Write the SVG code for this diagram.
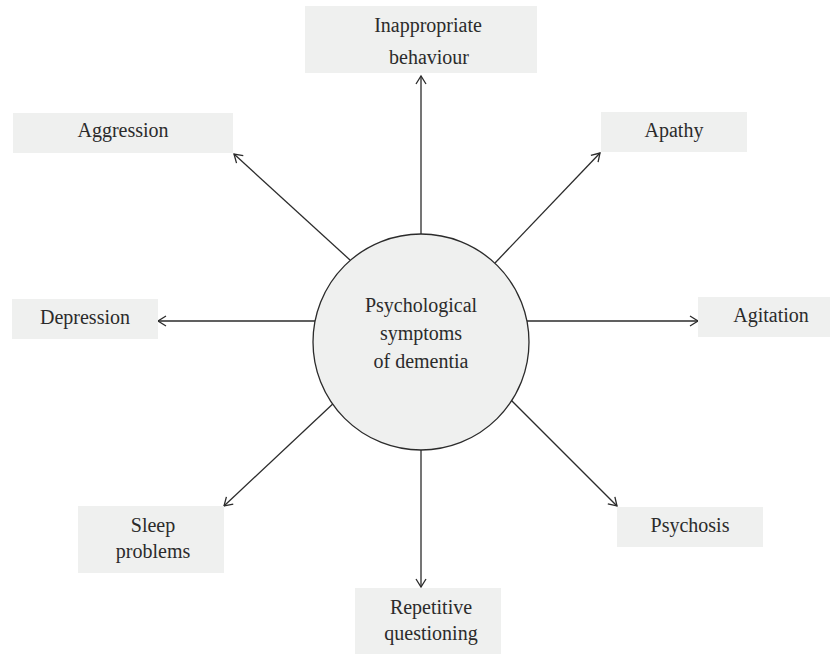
<svg xmlns="http://www.w3.org/2000/svg" width="830" height="654" viewBox="0 0 830 654">
<style>
.box{fill:#eff0ef;}
.t{font-family:'Liberation Serif','DejaVu Serif',serif;font-size:20px;fill:#2b2b2b;text-anchor:middle;}
.c{stroke:#2b2b2b;stroke-width:1.3;fill:none;}
</style>
<defs>
<marker id="ah" markerUnits="userSpaceOnUse" markerWidth="12" markerHeight="12" viewBox="-10 -6 12 12" refX="0" refY="0" orient="auto">
<path d="M-8,-5 L0,0 L-8,5" fill="none" stroke="#2b2b2b" stroke-width="1.3"/>
</marker>
</defs>
<rect width="830" height="654" fill="#ffffff"/>
<g id="connectors" class="c" marker-end="url(#ah)">
<line x1="421" y1="234" x2="421" y2="76"/>
<line x1="350" y1="260" x2="234" y2="154"/>
<line x1="495" y1="263" x2="600" y2="153"/>
<line x1="315" y1="321" x2="158" y2="321"/>
<line x1="527" y1="321" x2="698" y2="321"/>
<line x1="337" y1="400" x2="224" y2="506"/>
<line x1="421" y1="450" x2="421" y2="587"/>
<line x1="508" y1="397" x2="617" y2="506"/>
</g>
<g font-family="Liberation Serif, DejaVu Serif, serif">
<g id="center">
<circle cx="421" cy="342" r="108" fill="#eff0ef" stroke="#2b2b2b" stroke-width="1.3"/>
<text class="t" x="421" y="312">Psychological</text>
<text class="t" x="421" y="340">symptoms</text>
<text class="t" x="421" y="368">of dementia</text>
</g>
<g id="inappropriate">
<rect class="box" x="305" y="6" width="232" height="67"/>
<text class="t" x="428" y="32">Inappropriate</text>
<text class="t" x="429" y="64">behaviour</text>
</g>
<g id="aggression">
<rect class="box" x="13" y="113" width="220" height="40"/>
<text class="t" x="123" y="137">Aggression</text>
</g>
<g id="apathy">
<rect class="box" x="601" y="112" width="146" height="40"/>
<text class="t" x="674" y="137">Apathy</text>
</g>
<g id="depression">
<rect class="box" x="12" y="299" width="146" height="40"/>
<text class="t" x="85" y="324">Depression</text>
</g>
<g id="agitation">
<rect class="box" x="698" y="297" width="146" height="40"/>
<text class="t" x="771" y="322">Agitation</text>
</g>
<g id="sleep">
<rect class="box" x="78" y="506" width="146" height="67"/>
<text class="t" x="153" y="532">Sleep</text>
<text class="t" x="153" y="558">problems</text>
</g>
<g id="psychosis">
<rect class="box" x="617" y="507" width="146" height="40"/>
<text class="t" x="690" y="532">Psychosis</text>
</g>
<g id="repetitive">
<rect class="box" x="355" y="588" width="146" height="66"/>
<text class="t" x="431" y="614">Repetitive</text>
<text class="t" x="431" y="640">questioning</text>
</g>
</g>
</svg>
